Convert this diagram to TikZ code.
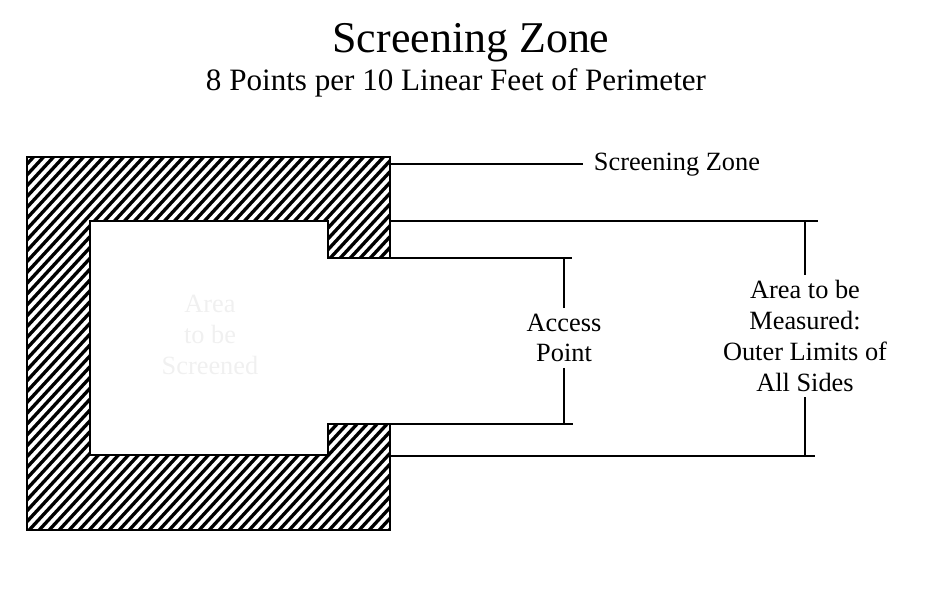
\documentclass[tikz,border=0pt]{standalone}
\usepackage{fontspec}
\setmainfont{Liberation Serif}

\begin{document}
\begin{tikzpicture}[
  x=0.02cm, y=-0.02cm,
  lbl/.style={align=center, font=\fontsize{15}{17.5}\selectfont, inner sep=3pt},
  rule/.style={line width=1.4pt},
  hatch/.style={line width=1.9pt},
]
\useasboundingbox (0,0) rectangle (940,594);
% Title
\node[font=\fontsize{25}{30}\selectfont, anchor=base] (title) at (471,53) {Screening Zone};
\node[font=\fontsize{17.7}{21}\selectfont, anchor=base] (subtitle) at (456,91)
  {8 Points per 10 Linear Feet of Perimeter};
% Hatched ring with access opening
\def\ring{(27,157) -- (390,157) -- (390,258) -- (328,258) -- (328,221)
  -- (90,221) -- (90,455) -- (328,455) -- (328,424) -- (390,424)
  -- (390,530) -- (27,530) -- cycle}
\begin{scope}
  \clip \ring;
  \foreach \i in {-360,-350,...,420}
    \draw[hatch] (\i,540) -- ++(360,-390);
\end{scope}
\draw[line width=1.1pt] \ring;
\node[lbl, text=black!6] (inner) at (210,335) {Area\\to be\\Screened};
% Corners on the right side
\coordinate (zoneR) at (390,164);
\coordinate (outT) at (390,221);
\coordinate (gapT) at (390,258);
\coordinate (gapB) at (390,424);
\coordinate (outB) at (390,456);
% Screening zone leader
\node[lbl, anchor=west, inner sep=6pt] (zlab) at (583,165) {Screening Zone};
\draw[line width=1pt] (zoneR) -- (zlab.west |- zoneR);
% Access point
\node[lbl] (acc) at (564,338) {Access\\Point};
\draw[rule] (gapT) -- ++(182,0);
\draw[rule] (gapB) -- ++(183,0);
\draw[rule] (acc.north) -- (acc.north |- gapT);
\draw[rule] (acc.south) -- (acc.south |- gapB);
% Area to be measured
\node[lbl] (area) at (805,336) {Area to be\\Measured:\\Outer Limits of\\All Sides};
\draw[rule] (outT) -- ++(428,0);
\draw[rule] (outB) -- ++(425,0);
\draw[rule] (area.north) -- (area.north |- outT);
\draw[rule] (area.south) -- (area.south |- outB);
\end{tikzpicture}
\end{document}
